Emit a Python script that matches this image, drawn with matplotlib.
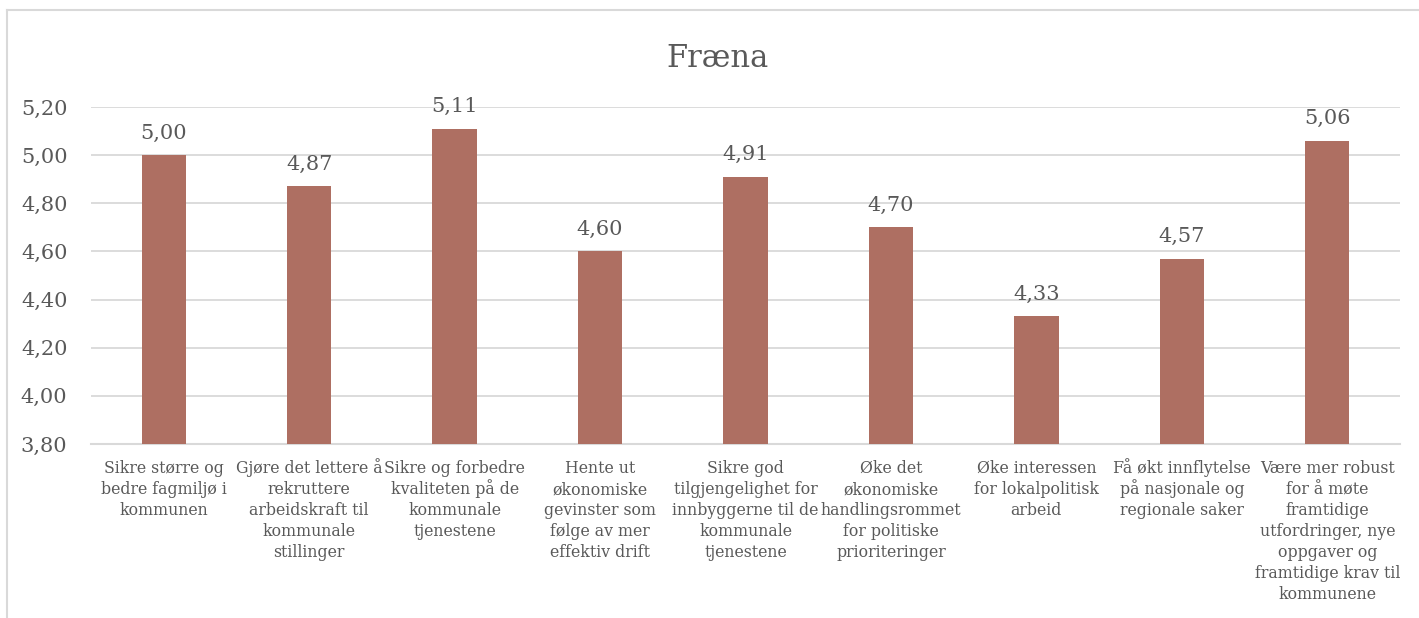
import matplotlib
matplotlib.use("Agg")
import matplotlib.pyplot as plt
from matplotlib.lines import Line2D
from matplotlib.ticker import FuncFormatter

categories = [
    "Sikre større og\nbedre fagmiljø i\nkommunen",
    "Gjøre det lettere å\nrekruttere\narbeidskraft til\nkommunale\nstillinger",
    "Sikre og forbedre\nkvaliteten på de\nkommunale\ntjenestene",
    "Hente ut\nøkonomiske\ngevinster som\nfølge av mer\neffektiv drift",
    "Sikre god\ntilgjengelighet for\ninnbyggerne til de\nkommunale\ntjenestene",
    "Øke det\nøkonomiske\nhandlingsrommet\nfor politiske\nprioriteringer",
    "Øke interessen\nfor lokalpolitisk\narbeid",
    "Få økt innflytelse\npå nasjonale og\nregionale saker",
    "Være mer robust\nfor å møte\nframtidige\nutfordringer, nye\noppgaver og\nframtidige krav til\nkommunene",
]
values = [5.00, 4.87, 5.11, 4.60, 4.91, 4.70, 4.33, 4.57, 5.06]
yticks = [3.80, 4.00, 4.20, 4.40, 4.60, 4.80, 5.00, 5.20]

BAR = "#AE6F62"
TXT = "#595959"
GRID = "#D9D9D9"
FONT = "DejaVu Serif"

plt.rcParams["font.family"] = FONT

W, H = 1419, 618
fig = plt.figure(figsize=(W / 100, H / 100), dpi=100)
ax = fig.add_axes([91 / W, 1 - 444 / H, (1400 - 91) / W, (444 - 107) / H])

x = list(range(len(values)))
ax.bar(x, values, width=0.305, color=BAR, zorder=3)
ax.set_ylim(3.80, 5.20)
ax.set_xlim(-0.5, len(values) - 0.5)
ax.set_yticks(yticks)
ax.yaxis.set_major_formatter(FuncFormatter(lambda v, p: "{:.2f}".format(v).replace(".", ",")))
ax.grid(axis="y", color=GRID, linewidth=1.3, zorder=0)
for s in ["top", "right", "left"]:
    ax.spines[s].set_visible(False)
ax.spines["bottom"].set_color(GRID)
ax.spines["bottom"].set_linewidth(1.5)
ax.tick_params(axis="y", length=0, pad=17, labelsize=15, labelcolor=TXT)
ax.set_xticks(x)
ax.set_xticklabels([])
ax.tick_params(axis="x", length=0)

# category labels line by line so the line spacing stays even
first = 21.0   # pt from axis to first baseline
step = 15.1    # pt between baselines
for xi, lab in zip(x, categories):
    for j, line in enumerate(lab.split("\n")):
        ax.annotate(line, (xi, 0), xycoords=("data", "axes fraction"),
                    xytext=(0, -first - j * step), textcoords="offset points",
                    ha="center", va="baseline", fontsize=11.3, color=TXT)

for xi, v in zip(x, values):
    ax.annotate("{:.2f}".format(v).replace(".", ","), (xi, v), xytext=(0, 12),
                textcoords="offset points", ha="center", va="baseline",
                fontsize=15, color=TXT)

fig.text(718 / W, 1 - 67 / H, "Fræna", ha="center", va="baseline", fontsize=22, color=TXT)

# chart border (only top and left edges visible in crop)
fig.add_artist(Line2D([7 / W, 7 / W], [0, 1 - 10 / H], color=GRID, linewidth=1.5))
fig.add_artist(Line2D([7 / W, 1], [1 - 10 / H, 1 - 10 / H], color=GRID, linewidth=1.5))

fig.savefig("out.png", dpi=100)
